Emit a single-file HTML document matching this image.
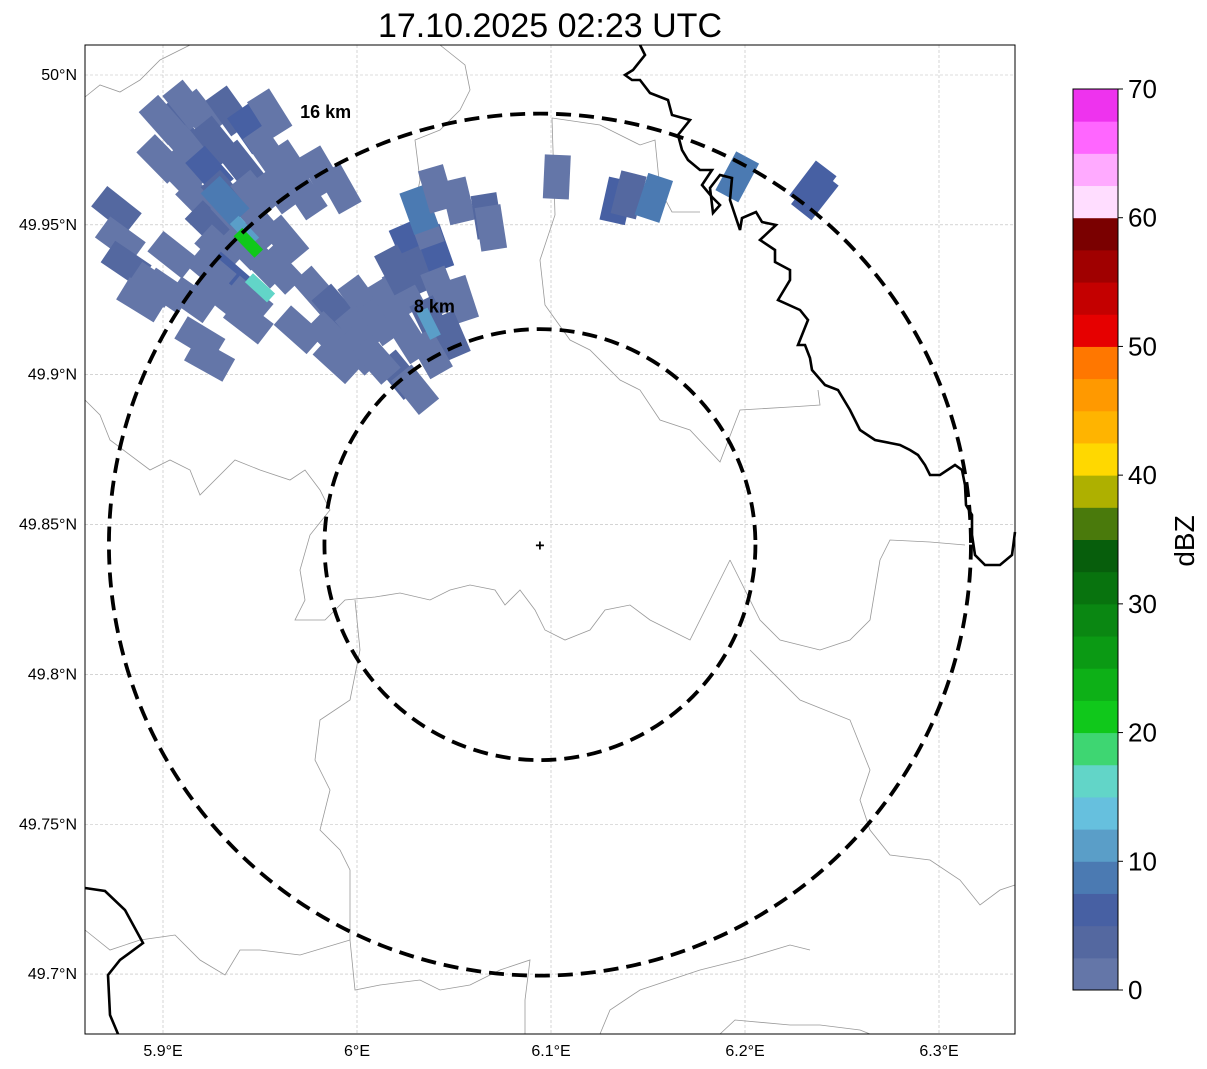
<!DOCTYPE html>
<html><head><meta charset="utf-8"><style>
body{margin:0;background:#fff;width:1207px;height:1069px;overflow:hidden;font-family:"Liberation Sans",sans-serif}
svg{position:absolute;left:0;top:0}
</style></head><body>
<svg id="c" width="1207" height="1069" viewBox="0 0 1207 1069" xmlns="http://www.w3.org/2000/svg">
<text x="550" y="37" font-size="34" text-anchor="middle">17.10.2025 02:23 UTC</text>
<g id="grid"></g>
<g id="borders" fill="none" stroke="#999" stroke-width="0.8"></g>
<g id="cells"></g>
<g id="rivers" fill="none" stroke="#000" stroke-width="2.6"></g>
<g id="rings"></g>
<rect x="85" y="45" width="930" height="989" fill="none" stroke="#000" stroke-width="1"/>
<g id="axes"></g>
<g id="cbar"></g>
<text transform="translate(1194,541) rotate(-90)" font-size="28" text-anchor="middle">dBZ</text>
</svg>
<script>
const lonTicks=[5.9,6.0,6.1,6.2,6.3];
const lonLabels=["5.9°E","6°E","6.1°E","6.2°E","6.3°E"];
const latTicks=[50.0,49.95,49.9,49.85,49.8,49.75,49.7];
const latLabels=["50°N","49.95°N","49.9°N","49.85°N","49.8°N","49.75°N","49.7°N"];
const ringKm=[8,16];
const cbTicks=[0,10,20,30,40,50,60,70];
const cbColors=["#6476a8","#5468a0","#4760a3","#4b7ab2","#5a9ec8","#66c0de","#62d5c8","#3ed672","#10c81b","#0db017","#0b9a14","#0a8712","#08730e","#075e0c","#4a7a0c","#aeb000","#ffd800","#ffb400","#ff9900","#ff7700","#e60000","#c40000","#a00000","#7a0000","#ffddff","#ffaaff","#ff66ff","#ee33ee"];
const radarLon=6.0943, radarLat=49.8433;
// cells: lon, lat, dBZ
const cellLon=[5.906,5.919,5.934,5.914,5.927,5.945,5.955,5.899,5.909,5.924,5.940,5.953,5.965,5.981,5.991,5.919,5.932,5.947,5.960,5.973,5.924,5.937,5.950,5.963,5.929,5.942,5.952,5.934,5.944,5.876,5.878,5.881,5.889,5.902,5.915,5.928,5.944,5.919,5.924,5.979,5.989,6.002,5.986,6.001,6.012,6.017,6.027,6.032,6.024,6.040,6.043,6.053,6.038,6.048,6.027,6.038,6.001,6.022,6.030,6.035,6.032,6.041,6.052,6.067,6.069,6.103,6.134,6.140,6.153,6.196,6.235,6.236,5.935,5.932,5.942,5.944,5.950,6.037,5.905,5.925,5.895,5.960,5.990,6.010,5.970,6.020,5.900,5.912];
const cellLat=[49.983,49.987,49.988,49.975,49.978,49.982,49.987,49.972,49.967,49.968,49.970,49.975,49.970,49.968,49.962,49.958,49.960,49.960,49.962,49.960,49.950,49.953,49.950,49.945,49.942,49.943,49.937,49.933,49.925,49.955,49.945,49.937,49.925,49.928,49.925,49.928,49.918,49.912,49.905,49.928,49.922,49.925,49.913,49.915,49.918,49.925,49.943,49.935,49.928,49.942,49.928,49.925,49.918,49.913,49.912,49.907,49.908,49.900,49.895,49.950,49.955,49.962,49.958,49.953,49.949,49.966,49.958,49.960,49.959,49.966,49.963,49.960,49.953,49.958,49.948,49.944,49.929,49.917,49.940,49.935,49.930,49.935,49.905,49.905,49.915,49.935,49.985,49.990];
const cellVal=[3,2,4,1,4,6,2,1,2,5,3,2,1,2,1,1,4,2,2,1,3,1,2,1,2,1,2,6,2,3,1,3,1,2,1,2,2,1,1,2,3,1,2,1,2,2,6,3,2,5,1,1,4,3,2,1,2,3,2,1,8,2,2,3,1,1,6,4,9,8,7,6,13,9,11,21,17,12,1,2,1,2,1,2,1,3,1,2];
const NS="http://www.w3.org/2000/svg";
const X0=85,X1=1015,Y0=45,Y1=1034;
const xS=l=>163+(l-5.9)*1940;
const yS=a=>75+(50-a)*2997;
function mk(t,a,p){const e=document.createElementNS(NS,t);for(const k in a)e.setAttribute(k,a[k]);(p||document.getElementById('c')).appendChild(e);return e;}
const grid=document.getElementById('grid'),axes=document.getElementById('axes');
lonTicks.forEach((l,i)=>{const x=xS(l);
 const g=mk('line',{x1:x,x2:x,y1:Y0,y2:Y1,stroke:'#bbb','stroke-width':0.6,'stroke-dasharray':'3,2'},grid);
 
 const t=mk('text',{x:x,y:1056,'font-size':16,'text-anchor':'middle'},axes);t.textContent=lonLabels[i];
 });
latTicks.forEach((a,i)=>{const y=yS(a);
 const g=mk('line',{x1:X0,x2:X1,y1:y,y2:y,stroke:'#bbb','stroke-width':0.6,'stroke-dasharray':'3,2'},grid);
 
 const t=mk('text',{x:77,y:y+5,'font-size':16,'text-anchor':'end'},axes);t.textContent=latLabels[i];
 });
const bordersG=document.getElementById('borders');
const borderLines=[
"M85,97 L100,85 L120,92 L140,80 L160,60 L190,45",
"M85,400 L100,415 L110,440 L150,470 L170,460 L190,470 L200,495 L235,460 L260,470 L290,480 L305,470 L320,490 L330,510 L310,535 L300,570 L305,600 L295,620 L325,620 L345,600 L375,597 L400,593 L430,600 L450,590 L470,585 L495,590 L505,605 L520,590 L535,610 L545,630 L565,640 L590,630 L605,610 L630,605 L650,620 L690,640 L710,600 L730,560",
"M440,45 L465,65 L470,90 L460,110 L440,130 L415,140 L420,180 L410,230 L405,260 L410,290 L440,320 L450,330",
"M552,118 L555,215 L540,260 L545,305 L570,340 L590,350 L620,380 L640,390 L660,420 L690,430 L720,462 L740,410 L790,407 L820,405 L818,390",
"M552,118 L600,125 L640,145 L655,140 L660,190 L672,212 L700,212",
"M355,600 L360,650 L350,700 L320,720 L315,760 L330,790 L320,830 L340,850 L350,870 L350,940 L355,990 L380,985 L420,980 L440,990 L470,985 L500,970 L530,960 L525,1000 L525,1034",
"M85,930 L110,950 L140,940 L175,935 L200,960 L225,975 L240,950 L260,950 L300,955 L350,940",
"M720,1034 L735,1020 L790,1025 L820,1025 L860,1030 L870,1034",
"M750,650 L800,700 L850,720 L870,770 L860,800 L870,830 L890,855 L930,860 L960,880 L980,905 L1000,890 L1015,885",
"M880,560 L890,540 L930,542 L965,545",
"M730,560 L760,620 L780,640 L820,650 L850,640 L870,620 L880,560",
"M600,1034 L610,1010 L640,990 L700,970 L740,960 L790,945 L810,950"];
borderLines.forEach(d=>{const p=mk('path',{d:d},bordersG);});
const riv=document.getElementById('rivers');
["M640,45 L645,55 L633,70 L625,75 L632,80 L640,80 L650,93 L668,100 L672,115 L690,120 L678,135 L682,150 L688,160 L700,170 L712,170 L702,185 L712,197 L720,205 L713,213 L710,188 L720,175 L732,178 L730,200 L735,215 L740,230 L742,218 L756,212 L762,222 L776,225 L760,240 L775,250 L775,262 L790,270 L790,280 L778,300 L800,310 L808,320 L798,345 L805,345 L810,358 L812,370 L825,385 L838,390 L850,410 L860,430 L875,440 L890,443 L900,445 L910,450 L918,455 L925,465 L930,475 L940,475 L955,465 L962,470 L965,485 L966,505 L972,515 L972,535 L975,555 L985,565 L1000,565 L1012,555 L1015,532",
"M85,888 L105,891 L125,910 L143,943 L120,960 L108,975 L110,1015 L118,1034"].forEach(d=>{const p=mk('path',{d:d},riv);});
const cellsG=document.getElementById('cells');
const cx=xS(radarLon),cy=yS(radarLat);
function colorFor(v){return cbColors[Math.max(0,Math.min(27,Math.floor(v/2.5)))];}
cellLon.forEach((l,i)=>{const x=xS(l),y=yS(cellLat[i]);
 const ang=Math.atan2(y-cy,x-cx)*180/Math.PI;
 const small=cellVal[i]>=10;
 const w=small?30:44,h=small?12:26;
 const r=mk('rect',{x:-w/2,y:-h/2,width:w,height:h,fill:colorFor(cellVal[i]),transform:`translate(${x},${y}) rotate(${ang})`},cellsG);
 });
const ringsG=document.getElementById('rings');
const kmPx=215.5/8;
const labelOff={8:[-0.418,-1.077],16:[-0.473,-0.99]};
ringKm.forEach(k=>{const r=k*kmPx;
 const c=mk('circle',{cx:cx,cy:cy,r:r,fill:'none',stroke:'#000','stroke-width':3.8,'stroke-dasharray':'15,8'},ringsG);
 
 const o=labelOff[k];
 const t=mk('text',{x:cx+o[0]*r-36,y:cy+o[1]*r,'font-size':18,'font-weight':'bold'},ringsG);
 t.textContent=k+' km';});
const m=mk('text',{x:cx,y:cy+6,'font-size':16,'font-weight':'bold','text-anchor':'middle'},ringsG);m.textContent='+';

const cb=document.getElementById('cbar');const cbTop=89,cbBot=990,cbX=1073,cbW=45;const bh=(cbBot-cbTop)/28;
cbColors.forEach((c,i)=>{const r=mk('rect',{x:cbX,y:cbBot-(i+1)*bh,width:cbW,height:bh+0.5,fill:c},cb);
 });
const fr=mk('rect',{x:cbX,y:cbTop,width:cbW,height:cbBot-cbTop,fill:'none',stroke:'#000','stroke-width':1},cb);

cbTicks.forEach(v=>{const y=cbBot-v/70*(cbBot-cbTop);
 mk('line',{x1:cbX+cbW,x2:cbX+cbW+5,y1:y,y2:y,stroke:'#000'},cb);
 const t=mk('text',{x:1128,y:y+9,'font-size':26},cb);t.textContent=v;
 });
</script>
</body></html>
